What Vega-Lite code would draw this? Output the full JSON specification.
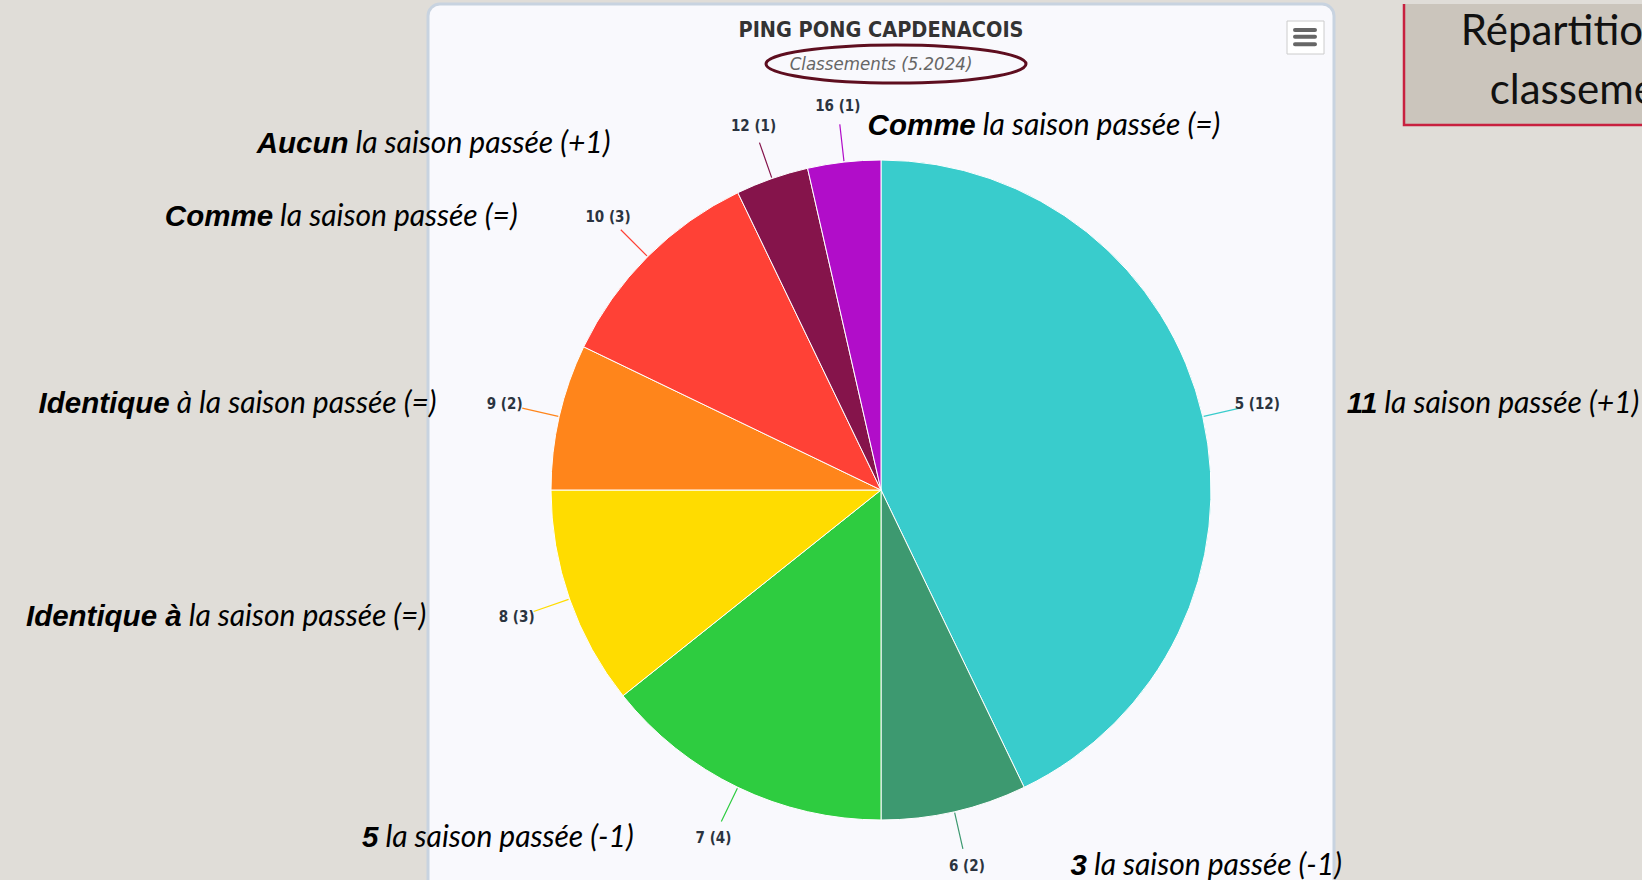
{
  "$schema": "https://vega.github.io/schema/vega-lite/v6.json",
  "autosize": {"type": "none"},
  "width": 906,
  "height": 972,
  "padding": {"left": 428, "top": 4, "right": 308, "bottom": 0},
  "background": "#e0ddd8",
  "view": {"fill": "#f9f9fd", "stroke": "#c8d3e0", "strokeWidth": 3, "cornerRadius": 12},
  "title": {
    "text": "PING PONG CAPDENACOIS",
    "subtitle": "Classements (5.2024)",
    "anchor": "middle",
    "frame": "group",
    "offset": -74,
    "font": "DejaVu Sans Condensed",
    "fontSize": 21.5,
    "fontWeight": "bold",
    "color": "#333333",
    "subtitleFont": "DejaVu Sans Condensed",
    "subtitleFontSize": 18.5,
    "subtitleFontStyle": "italic",
    "subtitleColor": "#666666",
    "subtitlePadding": 13
  },
  "data": {
    "values": [
      {"classement": 5, "label": "5 (12)", "count": 12, "bold": "11", "rest": "la saison passée (+1)"},
      {"classement": 6, "label": "6 (2)", "count": 2, "bold": "3", "rest": "la saison passée (-1)"},
      {"classement": 7, "label": "7 (4)", "count": 4, "bold": "5", "rest": "la saison passée (-1)"},
      {"classement": 8, "label": "8 (3)", "count": 3, "bold": "Identique à", "rest": "la saison passée (=)"},
      {"classement": 9, "label": "9 (2)", "count": 2, "bold": "Identique", "rest": "à la saison passée (=)"},
      {"classement": 10, "label": "10 (3)", "count": 3, "bold": "Comme", "rest": "la saison passée (=)"},
      {"classement": 12, "label": "12 (1)", "count": 1, "bold": "Aucun", "rest": "la saison passée (+1)"},
      {"classement": 16, "label": "16 (1)", "count": 1, "bold": "Comme", "rest": "la saison passée (=)"}
    ]
  },
  "layer": [
    {
      "mark": {"type": "arc", "radius": 330, "stroke": "#ffffff", "strokeWidth": 1},
      "encoding": {
        "theta": {"field": "count", "type": "quantitative", "stack": true},
        "order": {"field": "classement", "type": "quantitative", "sort": "ascending"},
        "color": {"field": "classement", "type": "nominal", "legend": null,
          "scale": {"domain": [5, 6, 7, 8, 9, 10, 12, 16], "range": ["#39CCCC", "#3D9970", "#2ECC40", "#FFDC00", "#FF851B", "#FF4136", "#85144B", "#B10DC9"]}}
      }
    },
    {
      "mark": {"type": "arc", "filled": false, "radius": 368, "radius2": 331, "padAngle": 3, "strokeWidth": 1.2},
      "encoding": {
        "theta": {"field": "count", "type": "quantitative", "stack": true},
        "order": {"field": "classement", "type": "quantitative", "sort": "ascending"},
        "color": {"field": "classement", "type": "nominal", "legend": null,
          "scale": {"domain": [5, 6, 7, 8, 9, 10, 12, 16], "range": ["#39CCCC", "#3D9970", "#2ECC40", "#FFDC00", "#FF851B", "#FF4136", "#85144B", "#B10DC9"]}}
      }
    },
    {
      "mark": {"type": "text", "radius": 386, "align": "center", "baseline": "middle", "font": "DejaVu Sans Condensed", "fontWeight": "bold", "fontSize": 15, "fill": "#2b3440"},
      "encoding": {
        "theta": {"field": "count", "type": "quantitative", "stack": true},
        "order": {"field": "classement", "type": "quantitative", "sort": "ascending"},
        "text": {"field": "label", "type": "nominal"}
      }
    },
    {
      "mark": {"type": "text", "radius": 386, "align": "right", "baseline": "middle", "dx": 120, "font": "Liberation Sans", "fontWeight": "bold", "fontStyle": "italic", "fontSize": 29.5, "fill": "#000000"},
      "encoding": {
        "theta": {"field": "count", "type": "quantitative", "stack": true},
        "order": {"field": "classement", "type": "quantitative", "sort": "ascending"},
        "text": {"condition": {"test": "indexof([5, 6], datum.classement) >= 0", "field": "bold", "type": "nominal"}, "value": ""}
      }
    },
    {
      "mark": {"type": "text", "radius": 386, "align": "left", "baseline": "middle", "dx": 127, "font": "Lato", "fontStyle": "italic", "fontSize": 30, "fill": "#000000"},
      "encoding": {
        "theta": {"field": "count", "type": "quantitative", "stack": true},
        "order": {"field": "classement", "type": "quantitative", "sort": "ascending"},
        "text": {"condition": {"test": "indexof([5, 6], datum.classement) >= 0", "field": "rest", "type": "nominal"}, "value": ""}
      }
    },
    {
      "mark": {"type": "text", "radius": 386, "align": "right", "baseline": "middle", "dx": 138, "dy": 20, "font": "Liberation Sans", "fontWeight": "bold", "fontStyle": "italic", "fontSize": 29.5, "fill": "#000000"},
      "encoding": {
        "theta": {"field": "count", "type": "quantitative", "stack": true},
        "order": {"field": "classement", "type": "quantitative", "sort": "ascending"},
        "text": {"condition": {"test": "datum.classement == 16", "field": "bold", "type": "nominal"}, "value": ""}
      }
    },
    {
      "mark": {"type": "text", "radius": 386, "align": "left", "baseline": "middle", "dx": 145, "dy": 20, "font": "Lato", "fontStyle": "italic", "fontSize": 30, "fill": "#000000"},
      "encoding": {
        "theta": {"field": "count", "type": "quantitative", "stack": true},
        "order": {"field": "classement", "type": "quantitative", "sort": "ascending"},
        "text": {"condition": {"test": "datum.classement == 16", "field": "rest", "type": "nominal"}, "value": ""}
      }
    },
    {
      "mark": {"type": "text", "radius": 386, "align": "right", "baseline": "middle", "dx": -335, "font": "Liberation Sans", "fontWeight": "bold", "fontStyle": "italic", "fontSize": 29.5, "fill": "#000000"},
      "encoding": {
        "theta": {"field": "count", "type": "quantitative", "stack": true},
        "order": {"field": "classement", "type": "quantitative", "sort": "ascending"},
        "text": {"condition": {"test": "indexof([7, 8, 9, 10], datum.classement) >= 0", "field": "bold", "type": "nominal"}, "value": ""}
      }
    },
    {
      "mark": {"type": "text", "radius": 386, "align": "left", "baseline": "middle", "dx": -328, "font": "Lato", "fontStyle": "italic", "fontSize": 30, "fill": "#000000"},
      "encoding": {
        "theta": {"field": "count", "type": "quantitative", "stack": true},
        "order": {"field": "classement", "type": "quantitative", "sort": "ascending"},
        "text": {"condition": {"test": "indexof([7, 8, 9, 10], datum.classement) >= 0", "field": "rest", "type": "nominal"}, "value": ""}
      }
    },
    {
      "mark": {"type": "text", "radius": 386, "align": "right", "baseline": "middle", "dx": -405, "dy": 18, "font": "Liberation Sans", "fontWeight": "bold", "fontStyle": "italic", "fontSize": 29.5, "fill": "#000000"},
      "encoding": {
        "theta": {"field": "count", "type": "quantitative", "stack": true},
        "order": {"field": "classement", "type": "quantitative", "sort": "ascending"},
        "text": {"condition": {"test": "datum.classement == 12", "field": "bold", "type": "nominal"}, "value": ""}
      }
    },
    {
      "mark": {"type": "text", "radius": 386, "align": "left", "baseline": "middle", "dx": -398, "dy": 18, "font": "Lato", "fontStyle": "italic", "fontSize": 30, "fill": "#000000"},
      "encoding": {
        "theta": {"field": "count", "type": "quantitative", "stack": true},
        "order": {"field": "classement", "type": "quantitative", "sort": "ascending"},
        "text": {"condition": {"test": "datum.classement == 12", "field": "rest", "type": "nominal"}, "value": ""}
      }
    },
    {
      "data": {"values": [{"item": "ellipse"}]},
      "mark": {"type": "point", "filled": false, "opacity": 1, "size": 40000, "stroke": "#5e0e1f", "strokeWidth": 3,
        "shape": "M-1.15,-4.26 C-1.15,-4.365 -0.568,-4.45 0.15,-4.45 C0.868,-4.45 1.45,-4.365 1.45,-4.26 C1.45,-4.155 0.868,-4.07 0.15,-4.07 C-0.568,-4.07 -1.15,-4.155 -1.15,-4.26 Z"},
      "encoding": {}
    },
    {
      "data": {"values": [{"item": "menu"}]},
      "mark": {"type": "point", "filled": true, "opacity": 1, "size": 40000, "fill": "#ffffff", "stroke": "#cccccc", "strokeWidth": 1,
        "shape": "M4.06,-4.69 L4.43,-4.69 L4.43,-4.36 L4.06,-4.36 Z"},
      "encoding": {}
    },
    {
      "data": {"values": [{"item": "menu bars"}]},
      "mark": {"type": "point", "filled": false, "opacity": 1, "size": 40000, "stroke": "#666666", "strokeWidth": 4, "strokeCap": "round",
        "shape": "M4.14,-4.60 L4.34,-4.60 M4.14,-4.533 L4.34,-4.533 M4.14,-4.457 L4.34,-4.457"},
      "encoding": {}
    },
    {
      "data": {"values": [{"item": "box"}]},
      "mark": {"type": "point", "filled": true, "opacity": 1, "size": 40000, "fill": "#cbc5bc", "strokeWidth": 0,
        "shape": "M5.23,-4.86 L8.2,-4.86 L8.2,-3.65 L5.23,-3.65 Z"},
      "encoding": {}
    },
    {
      "data": {"values": [{"item": "box border"}]},
      "mark": {"type": "point", "filled": false, "opacity": 1, "size": 40000, "stroke": "#c8203f", "strokeWidth": 2.5,
        "shape": "M5.23,-4.86 L5.23,-3.65 L8.2,-3.65"},
      "encoding": {}
    },
    {
      "data": {"values": [{"t": ["Répartition des", "classements"]}]},
      "mark": {"type": "text", "align": "center", "baseline": "alphabetic", "dx": 720, "dy": -445, "lineHeight": 59, "font": "Lato", "fontSize": 42, "fill": "#111111"},
      "encoding": {"text": {"field": "t"}}
    }
  ]
}
